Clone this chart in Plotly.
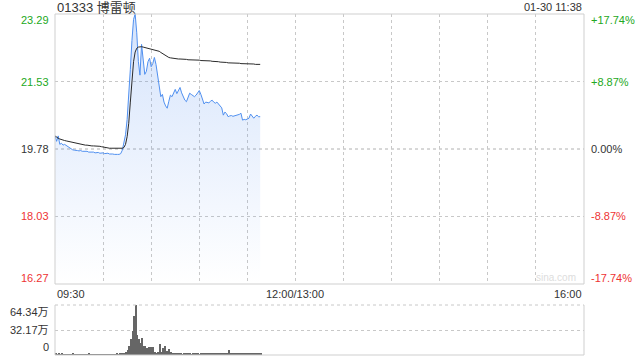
import plotly.graph_objects as go

# ---------------- data ----------------
prev_close = 19.78
price = [20.12, 19.98, 20.12, 19.90, 19.93, 19.88, 19.90, 19.87, 19.84, 19.80,
         19.78, 19.76, 19.75, 19.75, 19.74, 19.73, 19.74, 19.72, 19.72, 19.71,
         19.72, 19.70, 19.70, 19.69, 19.70, 19.68, 19.68, 19.69, 19.67, 19.67,
         19.68, 19.66, 19.66, 19.67, 19.65, 19.66, 19.65, 19.64, 19.65, 19.64,
         19.64, 19.66, 19.75, 19.92, 20.15, 20.55, 21.10, 21.85, 22.60, 23.15,
         23.29, 22.80, 22.05, 21.70, 22.50, 22.10, 21.72, 21.80, 22.05, 22.14,
         21.92, 22.00, 22.16, 21.98, 21.70, 21.40, 21.14, 21.20, 21.00, 20.90,
         20.84, 21.02, 21.18, 21.14, 21.25, 21.33, 21.22, 21.30, 21.38, 21.24,
         21.12, 21.05, 21.01, 21.15, 21.23, 21.20, 21.16, 21.14, 21.18, 21.25,
         21.30, 21.20, 21.08, 20.95, 21.00, 20.99, 20.98, 21.02, 21.05, 21.00,
         20.97, 21.00, 20.95, 20.90, 20.85, 20.66, 20.74, 20.70, 20.62, 20.64,
         20.65, 20.63, 20.64, 20.65, 20.66, 20.68, 20.71, 20.53, 20.55, 20.54,
         20.56, 20.58, 20.69, 20.62, 20.58, 20.63, 20.66, 20.62, 20.62]

avg_price = [20.12, 20.08, 20.06, 20.04, 20.02, 20.01, 20.00, 19.99, 19.98, 19.97,
             19.96, 19.95, 19.94, 19.93, 19.92, 19.91, 19.90, 19.89, 19.89, 19.88,
             19.88, 19.87, 19.87, 19.86, 19.86, 19.86, 19.85, 19.85, 19.85, 19.84,
             19.83, 19.82, 19.81, 19.81, 19.80, 19.80, 19.80, 19.80, 19.80, 19.80,
             19.80, 19.80, 19.80, 19.82, 19.90, 20.10, 20.45, 21.00, 21.60, 22.05,
             22.30, 22.40, 22.43, 22.44, 22.44, 22.43, 22.42, 22.41, 22.40, 22.39,
             22.38, 22.37, 22.36, 22.35, 22.34, 22.32, 22.29, 22.26, 22.23, 22.20,
             22.18, 22.16, 22.15, 22.14, 22.14, 22.13, 22.13, 22.12, 22.12, 22.12,
             22.11, 22.11, 22.11, 22.10, 22.10, 22.10, 22.10, 22.09, 22.09, 22.09,
             22.09, 22.08, 22.08, 22.08, 22.07, 22.07, 22.07, 22.07, 22.06, 22.06,
             22.06, 22.05, 22.05, 22.04, 22.04, 22.03, 22.03, 22.03, 22.02, 22.02,
             22.02, 22.02, 22.01, 22.01, 22.01, 22.01, 22.00, 22.00, 22.00, 22.00,
             21.99, 21.99, 21.99, 21.99, 21.99, 21.98, 21.98, 21.98, 21.98]

volume_wan = [2.5, 1.2, 1.5, 1.0, 1.3, 0.8, 1.1, 1.0, 1.2, 0.9,
              1.0, 1.3, 0.8, 1.0, 1.1, 0.9, 1.2, 0.8, 1.0, 1.1,
              0.9, 1.3, 1.0, 0.8, 1.0, 1.2, 0.9, 1.0, 0.8, 1.1,
              1.0, 0.9, 1.2, 0.8, 1.0, 1.1, 0.9, 1.0, 1.3, 1.0,
              1.4, 1.6, 2.2, 3.0, 4.0, 6.4, 11.6, 20.2, 31.3, 50.2,
              64.34, 25.7, 20.2, 15.9, 21.4, 11.6, 11.6, 8.6, 9.9, 9.9,
              9.9, 9.9, 4.3, 2.1, 4.3, 14.2, 4.3, 8.6, 11.6, 5.6,
              5.6, 7.3, 4.3, 3.0, 2.1, 1.7, 1.5, 1.3, 2.0, 1.2,
              1.6, 1.4, 2.2, 1.3, 1.8, 1.2, 1.5, 2.4, 1.3, 1.6,
              1.2, 1.9, 1.4, 2.1, 1.3, 1.7, 2.6, 1.4, 1.8, 1.5,
              2.2, 1.6, 2.8, 1.5, 2.0, 1.8, 2.4, 3.0, 6.4, 2.6,
              1.8, 2.2, 1.6, 2.4, 1.9, 2.6, 1.5, 2.2, 1.8, 2.9,
              1.6, 2.1, 2.5, 1.7, 2.3, 1.8, 2.7, 1.9, 1.6]

minutes = list(range(len(price)))

y_ticks = [23.29, 21.53, 19.78, 18.03, 16.27]
pct_ticks = ["+17.74%", "+8.87%", "0.00%", "-8.87%", "-17.74%"]
x_labels = ["09:30", "12:00/13:00", "16:00"]
x_label_pos = [0, 150, 330]
vol_ticks = [64.34, 32.17, 0]
vol_labels = ["64.34万", "32.17万", "0"]
title = "01333 博雷顿"
stamp = "01-30 11:38"

# ---------------- styles ----------------
W, H = 640, 360
FONT = "Liberation Sans, Arial, Noto Sans CJK SC, sans-serif"
GREEN = "#22a822"
RED = "#ee3333"
DARK = "#333333"
LINE_BLUE = "#5090f0"
GRID = "#c8c8c8"
BORDER = "#cfcfcf"

X0, X1 = 55 / W, 584 / W
MAIN_Y0, MAIN_Y1 = (H - 284) / H, (H - 14) / H
VOL_Y0, VOL_Y1 = (H - 355) / H, (H - 305) / H

fig = go.Figure()

fig.add_trace(go.Scatter(
    x=minutes, y=price, mode="lines",
    line=dict(color=LINE_BLUE, width=1),
    fill="tozeroy",
    fillgradient=dict(type="vertical",
                      colorscale=[[0, "rgba(80,140,240,0.0)"], [1, "rgba(80,140,240,0.24)"]],
                      start=16.27, stop=23.29),
    xaxis="x", yaxis="y", hoverinfo="skip", showlegend=False))

fig.add_trace(go.Scatter(
    x=minutes, y=avg_price, mode="lines",
    line=dict(color="#2a2a2a", width=1),
    xaxis="x", yaxis="y", hoverinfo="skip", showlegend=False))

fig.add_trace(go.Bar(
    x=minutes, y=volume_wan, marker=dict(color="#666666", line=dict(width=0)),
    width=0.6, xaxis="x2", yaxis="y2", hoverinfo="skip", showlegend=False))

fig.update_layout(
    width=W, height=H,
    margin=dict(l=0, r=0, t=0, b=0),
    paper_bgcolor="white", plot_bgcolor="white",
    font=dict(family=FONT, size=11, color=DARK),
    bargap=0,
    xaxis=dict(domain=[X0, X1], range=[0, 330], tickvals=list(range(30, 330, 30)),
               showticklabels=False, showgrid=True, gridcolor=GRID, griddash="dot",
               gridwidth=1, zeroline=False, showline=False, anchor="y"),
    yaxis=dict(domain=[MAIN_Y0, MAIN_Y1], range=[16.27, 23.29],
               tickvals=[21.53, 18.03], showticklabels=False, showgrid=True,
               gridcolor=GRID, griddash="dot", zeroline=False, showline=False, anchor="x"),
    xaxis2=dict(domain=[X0, X1], range=[-0.5, 330], showticklabels=False, showgrid=False,
                zeroline=False, showline=False, anchor="y2"),
    yaxis2=dict(domain=[VOL_Y0, VOL_Y1], range=[0, 64.34], tickvals=[32.17],
                showticklabels=False, showgrid=True, gridcolor=GRID, griddash="dot",
                zeroline=False, showline=False, anchor="x2"),
)

shapes = []
# prev close line
shapes.append(dict(type="line", xref="x domain", yref="y", x0=0, x1=1, y0=prev_close, y1=prev_close,
                   line=dict(color="#b0b0b0", width=1, dash="dot"), layer="below"))
# main border
shapes.append(dict(type="rect", xref="x domain", yref="y domain", x0=0, x1=1, y0=0, y1=1,
                   line=dict(color=BORDER, width=1)))
# volume borders
shapes.append(dict(type="line", xref="x2 domain", yref="y2 domain", x0=0, x1=1, y0=1, y1=1,
                   line=dict(color=GRID, width=1, dash="dot")))
for x in (0, 1):
    shapes.append(dict(type="line", xref="x2 domain", yref="y2 domain", x0=x, x1=x, y0=0, y1=1,
                       line=dict(color=BORDER, width=1)))
shapes.append(dict(type="line", xref="x2 domain", yref="y2 domain", x0=0, x1=1, y0=0, y1=0,
                   line=dict(color=BORDER, width=1)))
fig.update_layout(shapes=shapes)

ann = []
colors = [GREEN, GREEN, DARK, RED, RED]
yshift = [-6, 0, 0, 0, 6]
for v, p, c, s in zip(y_ticks, pct_ticks, colors, yshift):
    ann.append(dict(xref="paper", yref="y", x=X0 - 4 / W, y=v, text=f"{v:.2f}", showarrow=False,
                    xanchor="right", yanchor="middle", yshift=s, font=dict(color=c, size=11)))
    ann.append(dict(xref="paper", yref="y", x=X1 + 5 / W, y=v, text=p, showarrow=False,
                    xanchor="left", yanchor="middle", yshift=s, font=dict(color=c, size=11)))
anchors = ["left", "center", "right"]
for t, pos, a in zip(x_labels, x_label_pos, anchors):
    ann.append(dict(xref="x", yref="paper", x=pos, y=(H - 294) / H, text=t, showarrow=False,
                    xanchor=a, yanchor="middle", font=dict(color=DARK, size=11)))
vshift = [-7, 0, 8]
for v, t, s in zip(vol_ticks, vol_labels, vshift):
    ann.append(dict(xref="paper", yref="y2", x=X0 - 4 / W, y=v, text=t, showarrow=False,
                    xanchor="right", yanchor="middle", yshift=s, font=dict(color=DARK, size=11)))
ann.append(dict(xref="paper", yref="paper", x=X0, y=(H - 7) / H, text=title, showarrow=False,
                xanchor="left", yanchor="middle", font=dict(color=DARK, size=13)))
ann.append(dict(xref="paper", yref="paper", x=X1, y=(H - 7) / H, text=stamp, showarrow=False,
                xanchor="right", yanchor="middle", font=dict(color=DARK, size=11)))
ann.append(dict(xref="paper", yref="paper", x=X1 - 6 / W, y=(H - 277) / H, text="sina.com",
                showarrow=False, xanchor="right", yanchor="middle",
                font=dict(color="#dddddd", size=10)))
fig.update_layout(annotations=ann)

fig.write_html("out.html")
